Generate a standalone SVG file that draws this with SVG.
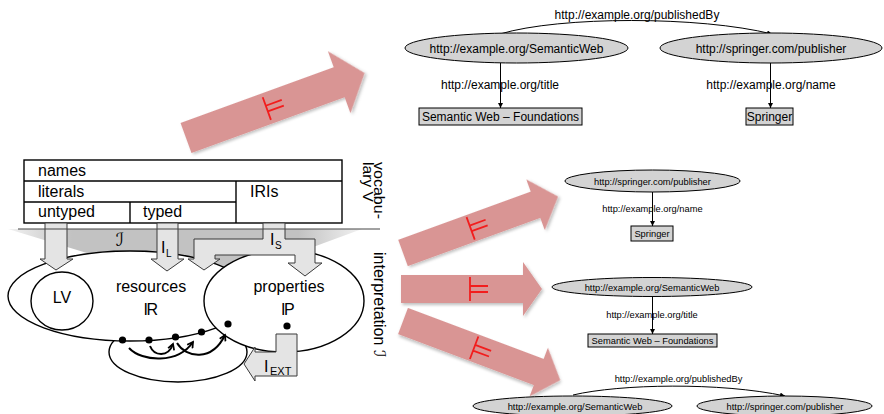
<svg xmlns="http://www.w3.org/2000/svg" width="884" height="414" viewBox="0 0 884 414">
<style>
text{font-family:"Liberation Sans",Arial,sans-serif;fill:#000}
.t16{font-size:16px}
.sub{font-size:10px}
.g12{font-size:12px}
.g9{font-size:9.3px}
.line{fill:none;stroke:#000;stroke-width:1.4}
.wf{fill:#fff;stroke:#000;stroke-width:1.4}
.garrow{fill:#e4e4e4;stroke:#3a3a3a;stroke-width:1}
.pink{fill:#d99594;filter:url(#sh)}
.models{stroke:#f21d1d;stroke-width:1.8;fill:none}
.node{fill:#d3d3d3;stroke:#000;stroke-width:1}
.edge{fill:none;stroke:#000;stroke-width:1;marker-end:url(#ah)}
.curv{fill:none;stroke:#000;stroke-width:2;marker-end:url(#oa)}
.script{font-family:"DejaVu Serif","DejaVu Sans",serif;font-style:italic}
</style>
<defs>
<linearGradient id="gg" x1="0" y1="0" x2="1" y2="0">
<stop offset="0" stop-color="#f2f2f2"/>
<stop offset="0.18" stop-color="#c2c2c2"/>
<stop offset="0.82" stop-color="#c2c2c2"/>
<stop offset="1" stop-color="#f2f2f2"/>
</linearGradient>
<filter id="sh" x="-10%" y="-20%" width="130%" height="150%">
<feDropShadow dx="1.5" dy="2" stdDeviation="1.5" flood-color="#000" flood-opacity="0.25"/>
</filter>
<marker id="ah" viewBox="0 0 10 10" refX="10" refY="5" markerWidth="5" markerHeight="5" markerUnits="userSpaceOnUse" orient="auto">
<path d="M0,0 L10,5 L0,10 Z" fill="#000"/>
</marker>
<marker id="oa" viewBox="0 0 10 10" refX="8" refY="5" markerWidth="8" markerHeight="8" markerUnits="userSpaceOnUse" orient="auto">
<path d="M1,1 L8,5 L1,9" fill="none" stroke="#000" stroke-width="2.2"/>
</marker>
</defs>

<!-- big interpretation arrow (background) -->
<g id="interp-band">
<polygon points="8,229 362,229 202,288" fill="url(#gg)"/>
</g>

<!-- domain of interpretation -->
<g id="ext-loop"><ellipse cx="178" cy="352" rx="69" ry="30" class="wf"/></g>
<g id="resources">
<ellipse cx="130" cy="296" rx="122" ry="45" class="wf"/>
<text x="151" y="291.5" class="t16" text-anchor="middle">resources</text>
<text x="150" y="315" class="t16" text-anchor="middle" letter-spacing="-1.5">IR</text>
</g>
<g id="properties">
<ellipse cx="284" cy="301" rx="80" ry="51" class="wf"/>
<text x="289" y="291.5" class="t16" text-anchor="middle">properties</text>
<text x="287" y="315" class="t16" text-anchor="middle" letter-spacing="-1.5">IP</text>
</g>
<g id="LV">
<ellipse cx="62" cy="301" rx="31" ry="29" class="wf"/>
<text x="62" y="303" class="t16" text-anchor="middle">LV</text>
</g>

<!-- vocabulary table -->
<g id="vocabulary">
<rect x="24" y="160" width="318" height="63" class="wf"/>
<line x1="24" y1="181" x2="342" y2="181" class="line"/>
<line x1="24" y1="202" x2="236" y2="202" class="line"/>
<line x1="236" y1="181" x2="236" y2="223" class="line"/>
<line x1="130" y1="202" x2="130" y2="223" class="line"/>
<text x="38" y="176" class="t16">names</text>
<text x="38" y="197" class="t16">literals</text>
<text x="38" y="217" class="t16">untyped</text>
<text x="143" y="217" class="t16">typed</text>
<text x="250" y="197" class="t16">IRIs</text>
</g>

<!-- mapping arrows -->
<g id="map-LV">
<polygon class="garrow" points="45,223 67,223 67,259 73,259 56,270 40,259 45,259"/>
</g>
<g id="map-IL">
<polygon class="garrow" points="157,223 178,223 178,259 184,259 167,271 151,259 157,259"/>
<text x="161" y="253" class="t16">I</text><text x="166" y="257" class="sub">L</text>
</g>
<g id="map-IS">
<polygon class="garrow" points="263,223 285,223 285,239 315,239 315,263 322,263 305,276 288,263 295,263 295,255 215,255 215,259 220,259 204,270 188,259 194,259 194,239 263,239"/>
<text x="270" y="245" class="t16">I</text><text x="275" y="249" class="sub">S</text>
</g>
<g id="map-IEXT">
<polygon class="garrow" points="276,334 297,334 297,376 255,376 255,381 244,364 255,347 255,352 276,352"/>
<text x="264" y="372" class="t16">I</text><text x="270" y="375" font-size="11">EXT</text>
</g>

<line x1="18" y1="229" x2="380" y2="229" stroke="#444" stroke-width="1"/>
<text x="120" y="246" font-size="18" class="script" text-anchor="middle" fill="#000">ℐ</text>

<!-- elements and extension arcs -->
<g id="elements">
<circle cx="122.5" cy="340" r="3.6"/>
<circle cx="149" cy="340" r="3.6"/>
<circle cx="175.5" cy="337" r="3.6"/>
<circle cx="201.5" cy="332" r="3.6"/>
<circle cx="228" cy="324" r="3.6"/>
<circle cx="287" cy="326" r="3.6"/>
<path class="curv" d="M129,348 C142,362 178,364 193,342"/>
<path class="curv" d="M150,346 C154,356 168,358 173,344"/>
<path class="curv" d="M177,343 C186,358 212,362 225,335"/>
</g>

<!-- side labels -->
<g id="side-labels">
<text font-size="14" transform="translate(373.5,162) rotate(90)" textLength="57" lengthAdjust="spacingAndGlyphs">vocabu-</text>
<text font-size="14" transform="translate(363,162) rotate(90)" textLength="40" lengthAdjust="spacingAndGlyphs">lary V</text>
<text class="t16" transform="translate(374,252) rotate(90)">interpretation <tspan class="script">ℐ</tspan></text>
</g>

<!-- models arrows -->
<g id="models-1" transform="translate(186,138) rotate(-20)">
<path class="pink" d="M0,-16 L163,-16 L163,-33 L190,0 L163,33 L163,16 L0,16 Z"/>
<path class="models" d="M86,-12 L86,12 M86,-3 L103,-3 M86,3 L103,3"/>
</g>
<g id="models-2" transform="translate(403,253) rotate(-20)">
<path class="pink" d="M0,-14 L141,-14 L141,-27 L165,0 L141,27 L141,14 L0,14 Z"/>
<path class="models" d="M72,-12 L72,12 M72,-3 L89,-3 M72,3 L89,3"/>
</g>
<g id="models-3" transform="translate(401,289)">
<path class="pink" d="M0,-14 L122,-14 L122,-27 L141,0 L122,27 L122,14 L0,14 Z"/>
<path class="models" d="M69,-12 L69,12 M69,-3 L87,-3 M69,3 L87,3"/>
</g>
<g id="models-4" transform="translate(403,321) rotate(20.6)">
<path class="pink" d="M0,-14 L145,-14 L145,-26 L168,0 L145,26 L145,14 L0,14 Z"/>
<path class="models" d="M76,-12 L76,12 M76,-3 L93,-3 M76,3 L93,3"/>
</g>

<!-- RDF graphs: connectors -->
<g id="connectors">
<path class="edge" d="M500,34 C560,16 700,16 772,34"/>
<path class="edge" d="M500.5,63 L500.5,108"/>
<path class="edge" d="M770.5,63 L770.5,108"/>
<path class="edge" d="M652.5,192 L652.5,226"/>
<path class="edge" d="M652.5,296 L652.5,334"/>
<path class="edge" d="M573,395 C620,384 720,382 785,396"/>
</g>

<!-- graph 1 -->
<g id="g1-semweb"><ellipse cx="516.5" cy="48" rx="111.5" ry="15" class="node"/><text x="516.5" y="52.5" class="g12" text-anchor="middle">http://example.org/SemanticWeb</text></g>
<g id="g1-springer"><ellipse cx="771" cy="48" rx="111" ry="15" class="node"/><text x="771" y="52.5" class="g12" text-anchor="middle">http://springer.com/publisher</text></g>
<g id="g1-title"><rect x="419" y="108" width="163" height="17" class="node"/><text x="500.5" y="121" class="g12" text-anchor="middle">Semantic Web – Foundations</text></g>
<g id="g1-name"><rect x="746" y="108" width="47" height="17" class="node"/><text x="769.5" y="121" class="g12" text-anchor="middle">Springer</text></g>
<text x="637" y="18.5" class="g12" text-anchor="middle">http://example.org/publishedBy</text>
<text x="500" y="89" class="g12" text-anchor="middle">http://example.org/title</text>
<text x="771" y="89" class="g12" text-anchor="middle">http://example.org/name</text>

<!-- graph 2 -->
<g id="g2-springer"><ellipse cx="652.5" cy="181" rx="87.5" ry="11" class="node"/><text x="652.5" y="184.5" class="g9" text-anchor="middle">http://springer.com/publisher</text></g>
<g id="g2-name"><rect x="631" y="226" width="42" height="15" class="node"/><text x="652" y="237" class="g9" text-anchor="middle">Springer</text></g>
<text x="652.5" y="212" class="g9" text-anchor="middle">http://example.org/name</text>

<!-- graph 3 -->
<g id="g3-semweb"><ellipse cx="652" cy="287" rx="100" ry="9.5" class="node"/><text x="652" y="290.5" class="g9" text-anchor="middle">http://example.org/SemanticWeb</text></g>
<g id="g3-title"><rect x="588" y="334" width="129" height="13" class="node"/><text x="652.5" y="344" class="g9" text-anchor="middle">Semantic Web – Foundations</text></g>
<text x="652" y="318" class="g9" text-anchor="middle">http://example.org/title</text>

<!-- graph 4 -->
<g id="g4-semweb"><ellipse cx="572.5" cy="406" rx="99.5" ry="10" class="node"/><text x="575" y="409.5" class="g9" text-anchor="middle">http://example.org/SemanticWeb</text></g>
<g id="g4-springer"><ellipse cx="784.5" cy="406" rx="87.5" ry="10" class="node"/><text x="785" y="409.5" class="g9" text-anchor="middle">http://springer.com/publisher</text></g>
<text x="678.5" y="382" class="g9" text-anchor="middle">http://example.org/publishedBy</text>
</svg>
